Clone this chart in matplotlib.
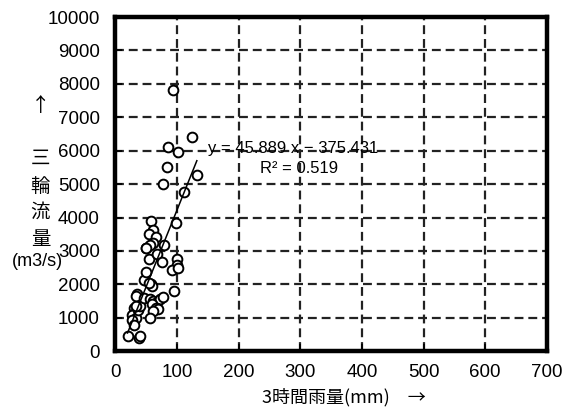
import numpy as np
import matplotlib
matplotlib.use('Agg')
from matplotlib import pyplot as plt

plt.rcParams['font.family'] = ['Liberation Sans', 'Noto Sans CJK JP', 'DejaVu Sans']

# 3-hour rainfall (mm) and discharge at Miwa (m3/s)
rain = [20, 38, 40, 29.7, 32, 26.7, 33.3, 28, 30.3, 37, 39.5, 34,
        36, 34, 46.5, 56, 61, 67.5, 72, 78, 59.7, 66.5, 70, 61, 56,
        47.5, 50, 58, 60, 55, 96, 50, 54, 67.5, 75.6, 100, 99.5, 92, 102.6,
        57.8, 61, 55.6, 66.5, 61, 56.7, 50, 79.4, 98.8,
        77.3, 84.8, 86.4, 102.6, 94.5, 124, 132.4, 111.8]
flow = [450, 400, 450, 1280, 1130, 1080, 980, 930, 780, 1230, 1350, 1350,
        1700, 1650, 1600, 1560, 1510, 1480, 1560, 1630, 1400, 1300, 1260, 1200, 1000,
        2130, 2370, 2000, 1950, 2050, 1800, 3100, 2770, 2900, 2670, 2770, 2570, 2430, 2500,
        3900, 3620, 3520, 3420, 3240, 3170, 3100, 3170, 3840,
        5000, 5500, 6100, 5970, 7830, 6420, 5270, 4760]

slope = 45.889
intercept = -375.431
r2 = 0.519

xticks = np.arange(0, 701, 100)
yticks = np.arange(0, 10001, 1000)

fig = plt.figure(figsize=(5.62, 4.17), dpi=100)
ax = fig.add_axes([0.205, 0.158, 0.768, 0.801])

ax.set_xlim(0, 700)
ax.set_ylim(0, 10000)
ax.set_xticks(xticks)
ax.set_yticks(yticks)
ax.grid(True, color='#222222', linestyle=(0, (4, 2.2)), linewidth=1.6)
ax.set_axisbelow(True)

ax.plot(rain, flow, 'o', mfc='white', mec='black', mew=1.4, ms=7, zorder=3)

xl = np.array([min(rain), max(rain)])
ax.plot(xl, slope * xl + intercept, color='black', lw=1.1, zorder=4)

ax.text(150, 6080, 'y = 45.889 x − 375.431', fontsize=12, va='center', ha='left', zorder=5)
ax.text(298, 5470, 'R² = 0.519', fontsize=12, va='center', ha='center', zorder=5)

for s in ax.spines.values():
    s.set_linewidth(3.2)
ax.tick_params(direction='in', length=5, width=1.2, labelsize=13.5)
ax.tick_params(axis='y', pad=11)
ax.tick_params(axis='x', pad=9)

fig.text(0.612, 0.048, '3時間雨量(mm)\u3000→', fontsize=13, ha='center', va='center',
         family='Noto Sans CJK JP')
fig.text(0.072, 0.748, '↑', fontsize=14, ha='center', va='center', family='Noto Sans CJK JP')
for ch, yy in zip('三輪流量', [0.617, 0.552, 0.489, 0.424]):
    fig.text(0.072, yy, ch, fontsize=14, ha='center', va='center')
fig.text(0.066, 0.372, '(m3/s)', fontsize=13, ha='center', va='center')

fig.savefig('out.png', dpi=100)
